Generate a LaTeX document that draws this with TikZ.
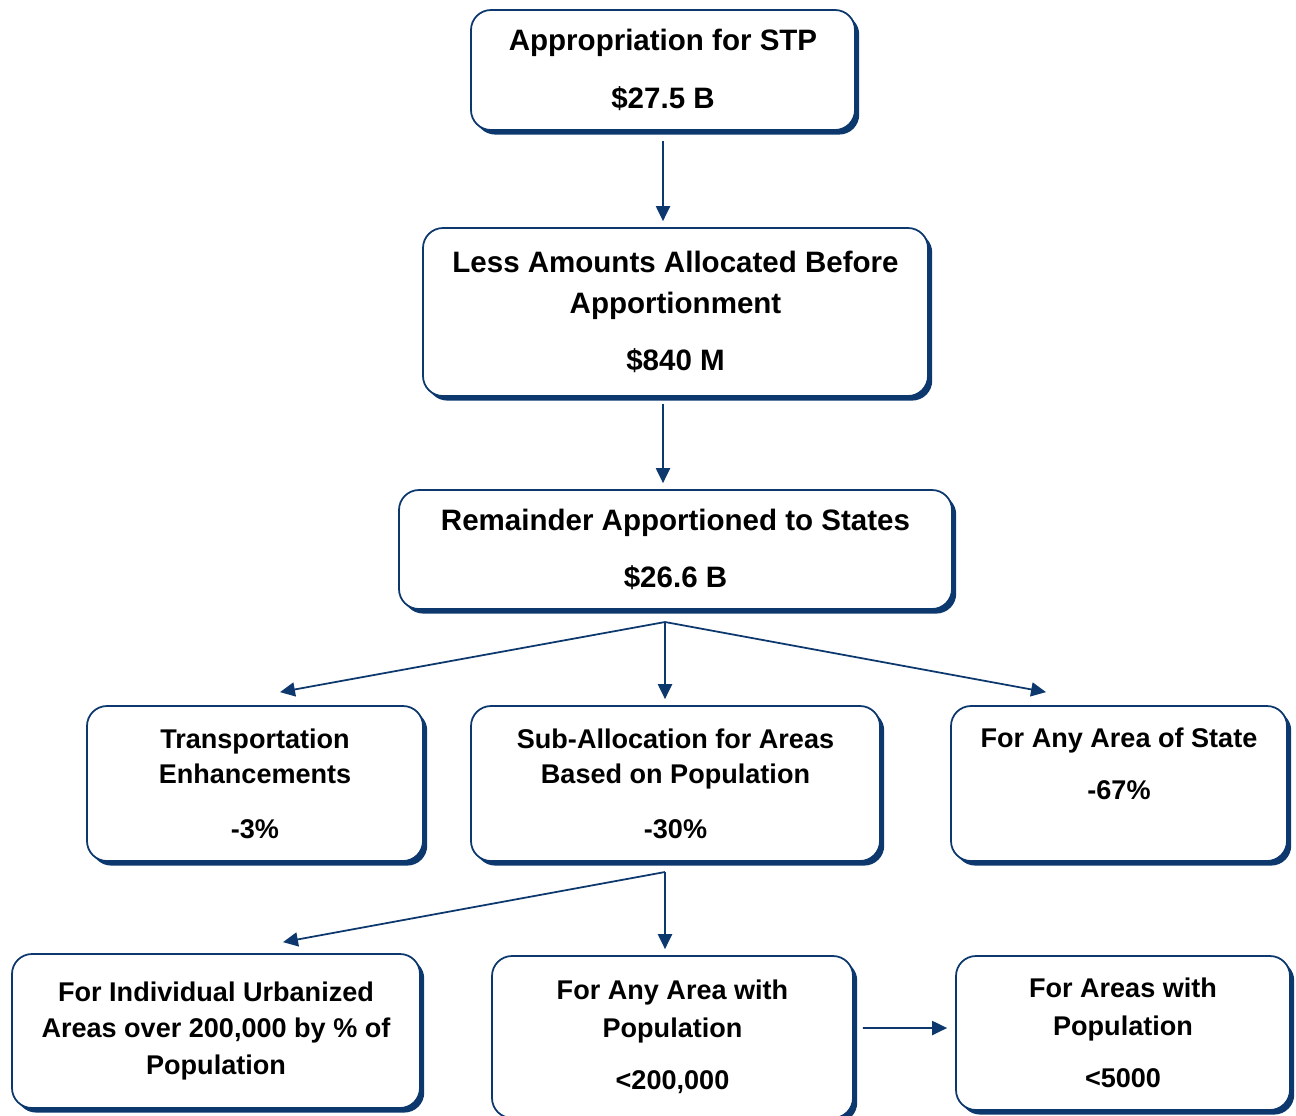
\documentclass[tikz,border=0pt]{standalone}
\usepackage{fontspec}
\setmainfont{Liberation Sans}
\usepackage{xcolor}
\usepackage{tikz}
\usetikzlibrary{shadows}
\usetikzlibrary{arrows.meta}
\definecolor{stpblue}{RGB}{12,56,110}
\tikzset{
stpbox/.style={
  rectangle,
  rounded corners=0.4cm,
  draw=stpblue,
  line width=1pt,
  fill=white,
  align=center,
  font=\bfseries\fontsize{16.8}{20.5}\selectfont,
  general shadow={fill=stpblue,shadow xshift=2.4pt,shadow yshift=-2.6pt}
},
stpsmall/.style={
  stpbox,
  font=\bfseries\fontsize{15.4}{20.4}\selectfont
},
arr/.style={
  draw=stpblue,
  line width=1pt,
  -{Triangle[length=8.5pt,width=8pt]}
},
}

\begin{document}
\begin{tikzpicture}
\useasboundingbox (0,0) rectangle (25.92,-22.3);
% the boxes
\node (b1) [stpbox,minimum width=7.68cm,minimum height=2.4cm] at (13.26,-1.4)
  {Appropriation for STP\\[12.5pt] \$27.5 B};
\node (b2) [stpbox,minimum width=10.1cm,minimum height=3.36cm] at (13.51,-6.24)
  {Less Amounts Allocated Before\\[2.5pt] Apportionment\\[12pt] \$840 M};
\node (b3) [stpbox,minimum width=11.06cm,minimum height=2.38cm] at (13.51,-10.99)
  {Remainder Apportioned to States\\[12pt] \$26.6 B};
\node (b4) [stpsmall,minimum width=6.72cm,minimum height=3.1cm] at (5.1,-15.67)
  {Transportation\\ Enhancements\\[10.5pt] -3\%};
\node (b5) [stpsmall,minimum width=8.18cm,minimum height=3.1cm] at (13.51,-15.67)
  {Sub-Allocation for Areas\\ Based on Population\\[10.5pt] -30\%};
\node (b6) [stpsmall,minimum width=6.72cm,minimum height=3.1cm,text depth=0.8cm] at (22.38,-15.67)
  {For Any Area of State\\[9.5pt] -67\%};
\node (b7) [stpsmall,minimum width=8.16cm,minimum height=3.08cm] at (4.32,-20.62)
  {For Individual Urbanized\\ Areas over 200,000 by \% of\\[1pt] Population};
\node (b8) [stpsmall,minimum width=7.22cm,minimum height=3.24cm] at (13.45,-20.74)
  {For Any Area with\\[1pt] Population\\[9.5pt] <200,000};
\node (b9) [stpsmall,minimum width=6.68cm,minimum height=3.08cm] at (22.46,-20.66)
  {For Areas with\\[1pt] Population\\[9.5pt] <5000};
% the arrows
\coordinate (j3) at (13.3,-12.44);
\coordinate (j5) at (13.3,-17.44);
\draw[arr] ([yshift=-0.2cm]b1.south) -- ([yshift=0.12cm]b1.south |- b2.north);
\draw[arr] ([yshift=-0.14cm]b1.south |- b2.south) -- ([yshift=0.12cm]b1.south |- b3.north);
\draw[arr] (j3) -- ([xshift=0.5cm,yshift=0.26cm]b4.north);
\draw[arr] (j3) -- ([xshift=-0.21cm,yshift=0.12cm]b5.north);
\draw[arr] (j3) -- ([xshift=-1.46cm,yshift=0.26cm]b6.north);
\draw[arr] (j5) -- ([xshift=1.34cm,yshift=0.22cm]b7.north);
\draw[arr] (j5) -- ([xshift=-0.15cm,yshift=0.12cm]b8.north);
\draw[arr] ([xshift=0.18cm,yshift=0.18cm]b8.east) -- ([xshift=-0.16cm,yshift=0.1cm]b9.west);
\end{tikzpicture}
\end{document}
